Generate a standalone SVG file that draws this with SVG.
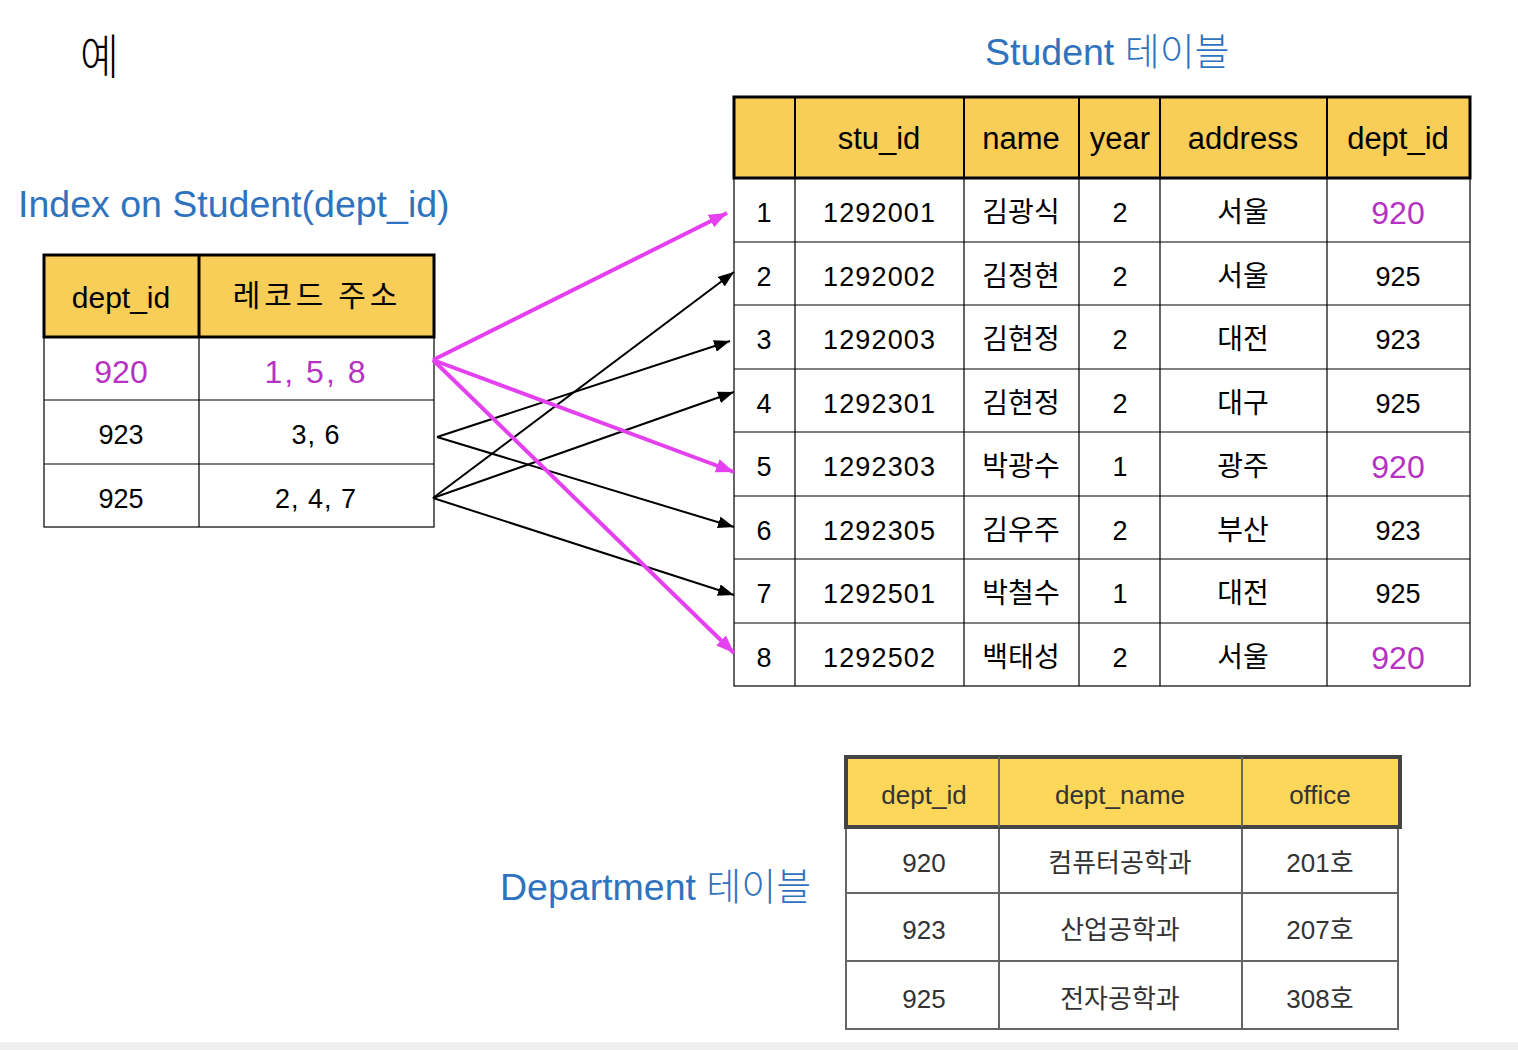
<svg xmlns="http://www.w3.org/2000/svg" width="1518" height="1050" viewBox="0 0 1518 1050">
<defs>
<style>
.t{font-family:"Liberation Sans","Noto Sans CJK KR",sans-serif;text-anchor:middle}
.k{font-family:"Noto Sans CJK KR","Liberation Sans",sans-serif;text-anchor:middle}
.blue{font-family:"Liberation Sans","Noto Sans CJK KR",sans-serif;fill:#2F73BF;font-size:37.5px}
.hdr{fill:#F8CD58;stroke:#000;stroke-width:3}
.cell{fill:#fff;stroke:#000;stroke-width:1.2}
.ln{stroke:#000;stroke-width:1.2}
.pur{fill:#B532C2}
.pa{stroke:#E540F0;stroke-width:4;fill:none}
.ba{stroke:#000;stroke-width:2;fill:none}
.dh{fill:#FCD75A;stroke:#444;stroke-width:4}
.dc{fill:#fff;stroke:#666;stroke-width:2}
.dl{stroke:#666;stroke-width:2}
.dt{font-family:"Liberation Sans","Noto Sans CJK KR",sans-serif;text-anchor:middle;fill:#333;font-size:26px}
</style>
<marker id="mbk" viewBox="0 0 16 12" refX="16" refY="6" markerWidth="16" markerHeight="12" orient="auto" markerUnits="userSpaceOnUse">
<path d="M0,0 L16,6 L0,12 z" fill="#000"/>
</marker>
<marker id="mp" viewBox="0 0 18 14" refX="18" refY="7" markerWidth="18" markerHeight="14" orient="auto" markerUnits="userSpaceOnUse">
<path d="M0,0 L18,7 L0,14 z" fill="#E540F0"/>
</marker>
</defs>
<rect width="1518" height="1050" fill="#fff"/>
<rect x="0" y="1042" width="1518" height="8" fill="#EFEFEF"/>

<g id="title">
<text x="80" y="74" font-family="Noto Sans CJK KR, sans-serif" font-size="48" font-weight="300" fill="#000" transform="translate(80,0) scale(0.88,1) translate(-80,0)">예</text>
</g>
<g id="labels">
<text class="blue" x="18" y="217">Index on Student(dept_id)</text>
<text class="blue" x="985" y="65">Student <tspan font-family="Noto Sans CJK KR, sans-serif" font-weight="300" font-size="38">테이블</tspan></text>
<text class="blue" x="500" y="900">Department <tspan font-family="Noto Sans CJK KR, sans-serif" font-weight="300" font-size="38">테이블</tspan></text>
</g>

<g id="index-table">
<rect class="cell" x="44" y="337" width="390" height="190"/>
<line class="ln" x1="44" y1="400" x2="434" y2="400"/>
<line class="ln" x1="44" y1="464" x2="434" y2="464"/>
<line class="ln" x1="199" y1="337" x2="199" y2="527"/>
<rect class="hdr" x="44" y="255" width="390" height="82"/>
<line x1="199" y1="255" x2="199" y2="337" stroke="#000" stroke-width="3"/>
<text class="t" x="121" y="308" font-size="30">dept_id</text>
<text class="k" x="317" y="306" font-size="30" letter-spacing="4">레코드 주소</text>
<text class="t pur" x="121" y="383" font-size="32">920</text>
<text class="t pur" x="316" y="383" font-size="32" letter-spacing="2">1, 5, 8</text>
<text class="t" x="121" y="444" font-size="27">923</text>
<text class="t" x="316" y="444" font-size="27" letter-spacing="1">3, 6</text>
<text class="t" x="121" y="508" font-size="27">925</text>
<text class="t" x="316" y="508" font-size="27" letter-spacing="1">2, 4, 7</text>
</g>

<g id="student-table">
<rect class="cell" x="734" y="178" width="736" height="508"/>
<line class="ln" x1="734" y1="242" x2="1470" y2="242"/>
<line class="ln" x1="734" y1="305" x2="1470" y2="305"/>
<line class="ln" x1="734" y1="369" x2="1470" y2="369"/>
<line class="ln" x1="734" y1="432" x2="1470" y2="432"/>
<line class="ln" x1="734" y1="496" x2="1470" y2="496"/>
<line class="ln" x1="734" y1="559" x2="1470" y2="559"/>
<line class="ln" x1="734" y1="623" x2="1470" y2="623"/>
<line class="ln" x1="795" y1="178" x2="795" y2="686"/>
<line class="ln" x1="964" y1="178" x2="964" y2="686"/>
<line class="ln" x1="1079" y1="178" x2="1079" y2="686"/>
<line class="ln" x1="1160" y1="178" x2="1160" y2="686"/>
<line class="ln" x1="1327" y1="178" x2="1327" y2="686"/>
<rect class="hdr" x="734" y="97" width="736" height="81"/>
<g stroke="#000" stroke-width="2">
<line x1="795" y1="97" x2="795" y2="178"/>
<line x1="964" y1="97" x2="964" y2="178"/>
<line x1="1079" y1="97" x2="1079" y2="178"/>
<line x1="1160" y1="97" x2="1160" y2="178"/>
<line x1="1327" y1="97" x2="1327" y2="178"/>
</g>
<g class="t" font-size="31">
<text x="879" y="149">stu_id</text>
<text x="1021" y="149">name</text>
<text x="1120" y="149">year</text>
<text x="1243" y="149">address</text>
<text x="1398" y="149">dept_id</text>
</g>
<g class="t" font-size="27">
<text x="764" y="222">1</text><text x="879" y="222" textLength="112">1292001</text><text x="1120" y="222">2</text><text class="t pur" x="1398" y="224" font-size="32">920</text>
<text x="764" y="286">2</text><text x="879" y="286" textLength="112">1292002</text><text x="1120" y="286">2</text><text x="1398" y="286">925</text>
<text x="764" y="349">3</text><text x="879" y="349" textLength="112">1292003</text><text x="1120" y="349">2</text><text x="1398" y="349">923</text>
<text x="764" y="413">4</text><text x="879" y="413" textLength="112">1292301</text><text x="1120" y="413">2</text><text x="1398" y="413">925</text>
<text x="764" y="476">5</text><text x="879" y="476" textLength="112">1292303</text><text x="1120" y="476">1</text><text class="t pur" x="1398" y="478" font-size="32">920</text>
<text x="764" y="540">6</text><text x="879" y="540" textLength="112">1292305</text><text x="1120" y="540">2</text><text x="1398" y="540">923</text>
<text x="764" y="603">7</text><text x="879" y="603" textLength="112">1292501</text><text x="1120" y="603">1</text><text x="1398" y="603">925</text>
<text x="764" y="667">8</text><text x="879" y="667" textLength="112">1292502</text><text x="1120" y="667">2</text><text class="t pur" x="1398" y="669" font-size="32">920</text>
</g>
<g class="k" font-size="28">
<text x="1021" y="222">김광식</text><text x="1243" y="222">서울</text>
<text x="1021" y="286">김정현</text><text x="1243" y="286">서울</text>
<text x="1021" y="349">김현정</text><text x="1243" y="349">대전</text>
<text x="1021" y="413">김현정</text><text x="1243" y="413">대구</text>
<text x="1021" y="476">박광수</text><text x="1243" y="476">광주</text>
<text x="1021" y="540">김우주</text><text x="1243" y="540">부산</text>
<text x="1021" y="603">박철수</text><text x="1243" y="603">대전</text>
<text x="1021" y="667">백태성</text><text x="1243" y="667">서울</text>
</g>
</g>

<g id="department-table">
<rect class="dc" x="846" y="827" width="552" height="202"/>
<line class="dl" x1="846" y1="893" x2="1398" y2="893"/>
<line class="dl" x1="846" y1="961" x2="1398" y2="961"/>
<line class="dl" x1="999" y1="827" x2="999" y2="1029"/>
<line class="dl" x1="1242" y1="827" x2="1242" y2="1029"/>
<rect class="dh" x="846" y="757" width="554" height="70"/>
<line x1="999" y1="757" x2="999" y2="827" stroke="#666" stroke-width="2"/>
<line x1="1242" y1="757" x2="1242" y2="827" stroke="#666" stroke-width="2"/>
<text class="dt" x="924" y="804">dept_id</text>
<text class="dt" x="1120" y="804">dept_name</text>
<text class="dt" x="1320" y="804">office</text>
<text class="dt" x="924" y="872">920</text>
<text class="dt" x="1120" y="872" font-family="Noto Sans CJK KR, sans-serif">컴퓨터공학과</text>
<text class="dt" x="1320" y="872">201<tspan font-family="Noto Sans CJK KR, sans-serif">호</tspan></text>
<text class="dt" x="924" y="939">923</text>
<text class="dt" x="1120" y="939" font-family="Noto Sans CJK KR, sans-serif">산업공학과</text>
<text class="dt" x="1320" y="939">207<tspan font-family="Noto Sans CJK KR, sans-serif">호</tspan></text>
<text class="dt" x="924" y="1008">925</text>
<text class="dt" x="1120" y="1008" font-family="Noto Sans CJK KR, sans-serif">전자공학과</text>
<text class="dt" x="1320" y="1008">308<tspan font-family="Noto Sans CJK KR, sans-serif">호</tspan></text>
</g>

<g id="connectors">
<line class="ba" x1="437" y1="437" x2="730" y2="341" marker-end="url(#mbk)"/>
<line class="ba" x1="437" y1="437" x2="734" y2="527" marker-end="url(#mbk)"/>
<line class="ba" x1="433" y1="498" x2="734" y2="272" marker-end="url(#mbk)"/>
<line class="ba" x1="433" y1="498" x2="734" y2="392" marker-end="url(#mbk)"/>
<line class="ba" x1="433" y1="498" x2="734" y2="595" marker-end="url(#mbk)"/>
<line class="pa" x1="433" y1="360" x2="727" y2="213" marker-end="url(#mp)"/>
<line class="pa" x1="433" y1="360" x2="734" y2="472" marker-end="url(#mp)"/>
<line class="pa" x1="433" y1="360" x2="734" y2="653" marker-end="url(#mp)"/>
</g>
</svg>
